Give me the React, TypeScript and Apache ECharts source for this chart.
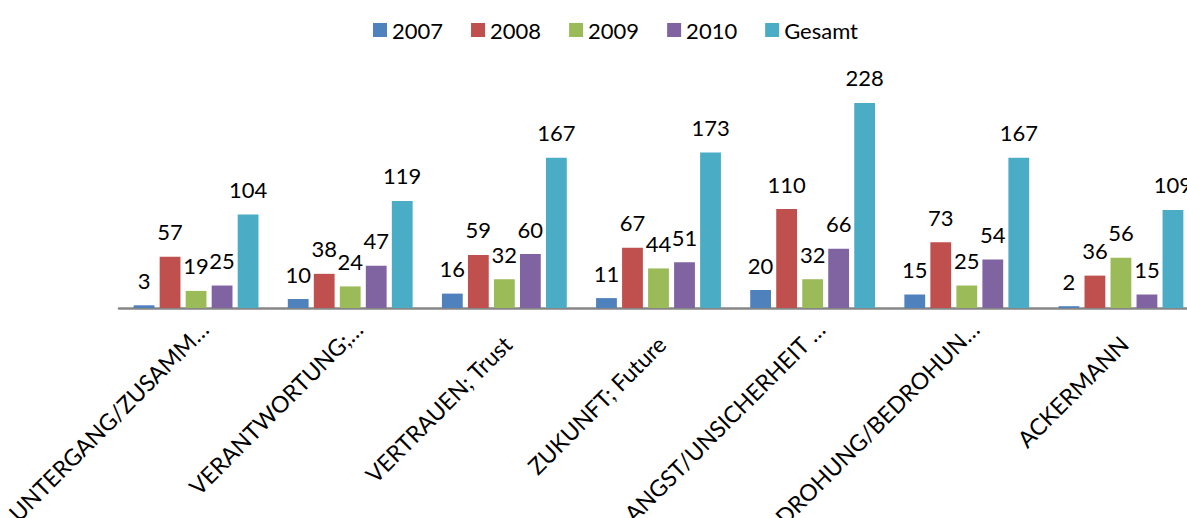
import React, { useEffect, useRef } from "react";
import * as echarts from "echarts";

const categories = [
  "UNTERGANG/ZUSAMM…",
  "VERANTWORTUNG;…",
  "VERTRAUEN; Trust",
  "ZUKUNFT; Future",
  "ANGST/UNSICHERHEIT …",
  "DROHUNG/BEDROHUN…",
  "ACKERMANN",
];
// labels that Excel shows complete (not truncated) sit a little lower
const fullLabels = [false, false, true, true, false, false, true];
const seriesNames = ["2007", "2008", "2009", "2010", "Gesamt"];
const v2007 = [3, 10, 16, 11, 20, 15, 2];
const v2008 = [57, 38, 59, 67, 110, 73, 36];
const v2009 = [19, 24, 32, 44, 32, 25, 56];
const v2010 = [25, 47, 60, 51, 66, 54, 15];
const vGesamt = [104, 119, 167, 173, 228, 167, 109];
const colors = ["#4F81BD", "#C0504D", "#9BBB59", "#8064A2", "#4BACC6"];

const FONT = "Lato, 'Open Sans', sans-serif";

export default function App() {
  const ref = useRef<HTMLDivElement>(null);
  useEffect(() => {
    document.body.style.margin = "0";
    const chart = echarts.init(ref.current!, null, { renderer: "svg" });
    const values = [v2007, v2008, v2009, v2010, vGesamt];
    chart.setOption({
      animation: false,
      color: colors,
      textStyle: { fontFamily: FONT },
      legend: {
        top: 14,
        left: 368,
        itemWidth: 14,
        itemHeight: 14,
        itemGap: 28,
        icon: "rect",
        textStyle: { fontSize: 22, color: "#000", fontFamily: FONT },
        data: seriesNames,
      },
      grid: {
        left: 119,
        top: 83.2,
        width: 1079,
        height: 224.8,
        containLabel: false,
        outerBoundsMode: "none",
      },
      xAxis: {
        type: "category",
        data: categories,
        axisLine: { lineStyle: { color: "#868686", width: 2.5 } },
        axisTick: { show: false },
        axisLabel: { show: false },
      },
      yAxis: { type: "value", min: 0, max: 250, show: false, splitLine: { show: false } },
      series: seriesNames.map((name, i) => ({
        name,
        type: "bar",
        data: values[i],
        barGap: "25%",
        barCategoryGap: "19%",
        itemStyle: { color: colors[i] },
        label: {
          show: true,
          position: "top",
          distance: 14,
          fontSize: 22,
          color: "#000",
          fontFamily: FONT,
        },
      })),
    });
    const axisY = chart.convertToPixel({ yAxisIndex: 0 }, 0) as number;
    const labels = categories.map((c, i) => {
      const cx = chart.convertToPixel({ xAxisIndex: 0 }, i) as number;
      return {
        type: "text",
        x: cx + (fullLabels[i] ? 3 : 8),
        y: axisY + (fullLabels[i] ? 32 : 17),
        rotation: Math.PI / 4,
        silent: true,
        style: {
          text: c,
          align: "right",
          verticalAlign: "middle",
          fontSize: 23,
          fontFamily: FONT,
          fill: "#000",
        },
      };
    });
    chart.setOption({ graphic: labels });
    return () => chart.dispose();
  }, []);
  return <div ref={ref} style={{ width: 1187, height: 518 }} />;
}
